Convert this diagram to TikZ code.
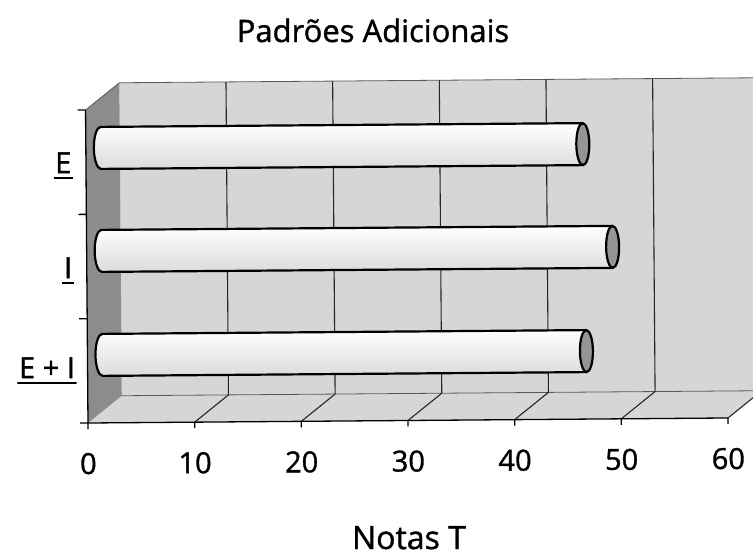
\documentclass[tikz,border=0pt]{standalone}
\usepackage{fontspec}
\setmainfont{Open Sans}
\newfontfamily\chartfont{Open Sans}[FakeBold=1.2]
\begin{document}
\begin{tikzpicture}[x=1pt,y=-1pt,
  wall/.style={fill=black!16},
  sidewall/.style={fill=black!45},
  grid/.style={line width=1.1pt,black!85},
  edge/.style={line width=0.8pt,black!65},
  axisline/.style={line width=1.3pt,black},
  barbody/.style={top color=white,bottom color=black!14,draw=none},
  barline/.style={line width=2.2pt,black},
  barcap/.style={fill=black!42,draw=black,line width=2.2pt},
  ticklab/.style={font=\chartfont\fontsize{29}{31}\selectfont,anchor=base,inner sep=0pt},
  catlab/.style={font=\chartfont\fontsize{29}{31}\selectfont,anchor=base east,inner sep=1.5pt},
  ttl/.style={font=\chartfont\fontsize{31}{33}\selectfont,anchor=base,inner sep=0pt}]
\useasboundingbox (0,0) rectangle (753,557);
\node[ttl] (title) at (373,42) {Padrões Adicionais};
\node[ttl,font=\chartfont\fontsize{32}{34}\selectfont] (xtitle) at (409,549) {Notas T};
\begin{scope}[rotate around={0.45:(88,423)}]
  % walls and floor
  \fill[wall] (122,83) rectangle (770,396);
  \fill[wall] (88,423) -- (728,423) -- (762,396) -- (122,396) -- cycle;
  \fill[sidewall] (88,110) -- (122,83) -- (122,396) -- (88,423) -- cycle;
  \draw[edge] (88,110) -- (122,83) -- (770,83);
  \draw[edge] (122,396) -- (770,396);
  % back wall grid and floor obliques
  \foreach \k in {1,...,6} {
    \pgfmathsetmacro{\bx}{122+\k*106.667}
    \pgfmathsetmacro{\fx}{88+\k*106.667}
    \draw[grid] (\bx,83) -- (\bx,396);
    \draw[grid] (\fx,423) -- (\bx,396);
  }
  % axes
  \draw[axisline] (88,110) -- (88,423) -- (728,423);
  \foreach \y in {110,214.33,318.67,423} \draw[axisline] (80,\y) -- (88,\y);
  \foreach \k in {0,...,6} \draw[axisline] (88+\k*106.667,423) -- (88+\k*106.667,429);
  % bars
  \foreach \c/\r in {148/585, 251/614, 355/587} {
    \fill[barbody] (103,\c-21) -- (\r,\c-21) -- (\r,\c+21) -- (103,\c+21)
      arc[start angle=270,end angle=90,x radius=7pt,y radius=21pt] -- cycle;
    \draw[barline] (\r,\c-21) -- (103,\c-21)
      arc[start angle=90,end angle=270,x radius=7pt,y radius=21pt] -- (\r,\c+21);
    \draw[barcap] (\r,\c) ellipse[x radius=6.5pt,y radius=21pt];
  }
  % tick labels
  \node[ticklab] (t0) at (88,474) {0};
  \node[ticklab] (t1) at (194.7,474) {10};
  \node[ticklab] (t2) at (301.3,474) {20};
  \node[ticklab] (t3) at (408,474) {30};
  \node[ticklab] (t4) at (514.7,474) {40};
  \node[ticklab] (t5) at (621.3,474) {50};
  \node[ticklab] (t6) at (728,474) {60};
  % category labels
  \node[catlab] (cE) at (75,173) {E};
  \node[catlab] (cI) at (75,278) {I};
  \node[catlab] (cEI) at (77,378) {E + I};
  \foreach \n in {cE,cI,cEI}
    \draw[line width=1.8pt] ([yshift=-5pt]\n.base west) -- ([yshift=-5pt]\n.base east);
\end{scope}
\end{tikzpicture}
\end{document}
